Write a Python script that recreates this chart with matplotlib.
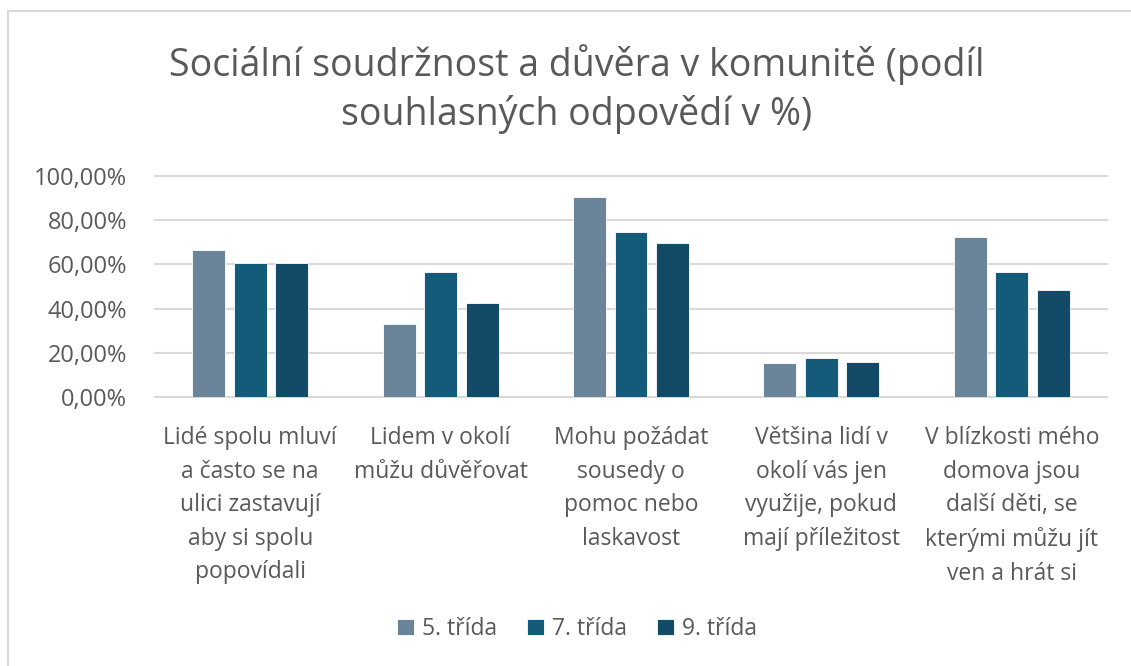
import matplotlib
matplotlib.use("Agg")
import matplotlib.pyplot as plt
from matplotlib.patches import Rectangle
import numpy as np

categories = [
    "Lidé spolu mluví\na často se na\nulici zastavují\naby si spolu\npopovídali",
    "Lidem v okolí\nmůžu důvěřovat",
    "Mohu požádat\nsousedy o\npomoc nebo\nlaskavost",
    "Většina lidí v\nokolí vás jen\nvyužije, pokud\nmají příležitost",
    "V blízkosti mého\ndomova jsou\ndalší děti, se\nkterými můžu jít\nven a hrát si",
]
series_names = ["5. třída", "7. třída", "9. třída"]
v5 = [66.5, 33.2, 90.5, 15.2, 72.4]
v7 = [60.5, 56.6, 74.5, 17.8, 56.4]
v9 = [60.5, 42.7, 69.8, 16.0, 48.6]
yticks = [0, 20, 40, 60, 80, 100]
ytick_labels = ["0,00%", "20,00%", "40,00%", "60,00%", "80,00%", "100,00%"]
title = "Sociální soudržnost a důvěra v komunitě (podíl\nsouhlasných odpovědí v %)"

colors = ["#6A8599", "#145B7A", "#124A68"]
text_color = "#595959"
grid_color = "#D9D9D9"

plt.rcParams['font.family'] = ['Open Sans', 'DejaVu Sans']

W, H = 1131, 666
fig = plt.figure(figsize=(W / 100, H / 100), dpi=100)
fig.patch.set_facecolor("white")

# outer chart frame
fig.patches.append(Rectangle((8 / W, -0.1), 1.2, (H - 11) / H + 0.1,
                             transform=fig.transFigure, fill=False,
                             edgecolor="#D9D9D9", linewidth=1.5))

left, right = 155 / W, 1107 / W
bottom, top = 1 - 397 / H, 1 - 176 / H
ax = fig.add_axes([left, bottom, right - left, top - bottom])

x = np.arange(len(categories))
width = 0.173
offset = 0.218
for i, (vals, name) in enumerate(zip([v5, v7, v9], series_names)):
    ax.bar(x + (i - 1) * offset, vals, width, color=colors[i], label=name,
           edgecolor="white", linewidth=0.6, zorder=3)

ax.set_xlim(-0.5, len(categories) - 0.5)
ax.set_ylim(0, 100)
for s in ax.spines.values():
    s.set_visible(False)
ax.set_yticks(yticks)
ax.set_yticklabels(ytick_labels)
for t in yticks:
    ax.axhline(t, color=grid_color, linewidth=1.5, zorder=1, clip_on=False)
ax.set_xticks(x)
ax.set_xticklabels(categories, linespacing=1.53)
ax.tick_params(axis="y", length=0, pad=20, labelsize=17, labelcolor=text_color)
ax.tick_params(axis="x", length=0, pad=21, labelsize=16.5, labelcolor=text_color)

fig.text(0.51, 1 - 89 / H, title, ha="center", va="center", fontsize=27,
         color=text_color, linespacing=1.35)

leg = fig.legend(loc="center", bbox_to_anchor=(0.51, 1 - 629 / H), ncol=3,
                 frameon=False, fontsize=16.5, handlelength=0.75, handleheight=0.75,
                 handletextpad=0.35, columnspacing=1.3, labelcolor=text_color)

fig.savefig("out.png", dpi=100, facecolor="white")
